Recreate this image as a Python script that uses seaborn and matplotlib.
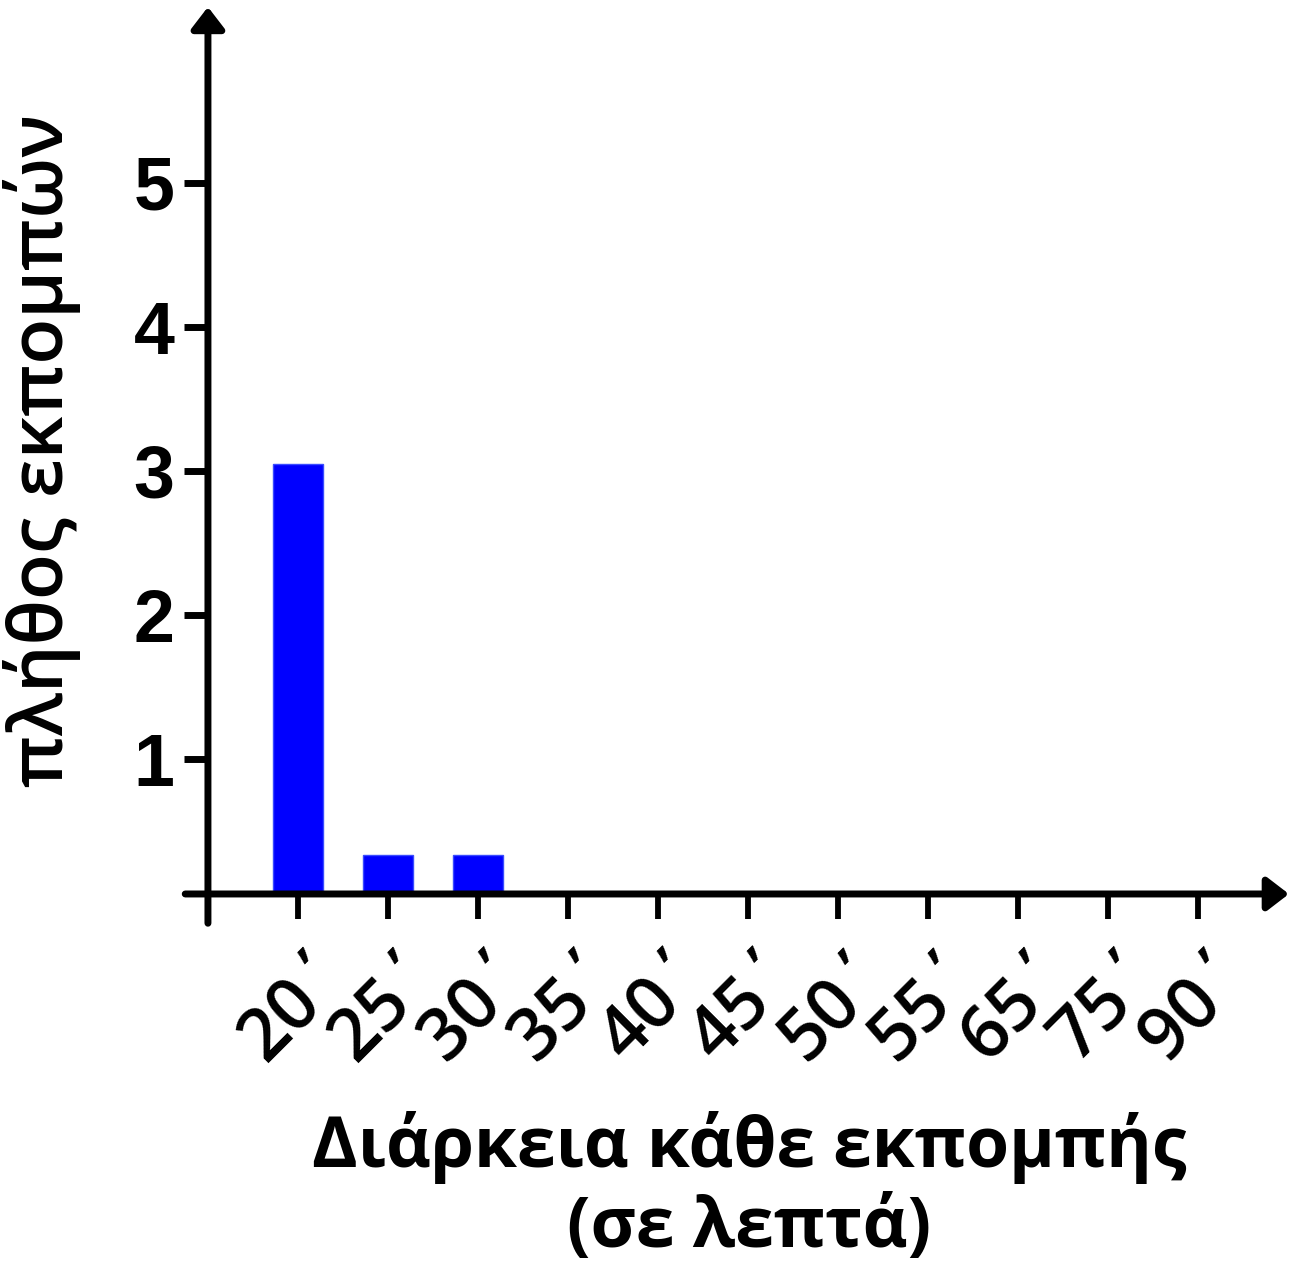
import matplotlib
matplotlib.use("Agg")
import matplotlib.pyplot as plt
import matplotlib.transforms as mtransforms
import seaborn as sns

# data
durations = ["20΄", "25΄", "30΄", "35΄", "40΄", "45΄", "50΄", "55΄", "65΄", "75΄", "90΄"]
counts = [3.05, 0.33, 0.33, 0, 0, 0, 0, 0, 0, 0, 0]
y_ticks = [1, 2, 3, 4, 5]

sns.set_style("white")
plt.rcParams["font.family"] = ["Liberation Sans", "DejaVu Sans"]
plt.rcParams["text.color"] = "black"
plt.rcParams["xtick.color"] = "black"
plt.rcParams["ytick.color"] = "black"
plt.rcParams["axes.labelcolor"] = "black"

fig = plt.figure(figsize=(12.94, 12.65), dpi=100)
ax = fig.add_axes([0.1607, 0.2933, 0.8362, 0.7012])

sns.barplot(x=durations, y=counts, color="#0000FF", saturation=1,
            width=0.55, edgecolor="#3a4cff", linewidth=1, ax=ax)

ax.set_xlim(-1, 11.02)
ax.set_ylim(0.0625, 6.22)

# hand-drawn axes with arrow heads (Prism style)
for s in ax.spines.values():
    s.set_visible(False)
arrow = dict(arrowstyle="-|>,head_length=0.65,head_width=0.5", mutation_scale=20,
             lw=5, color="black", shrinkA=0, shrinkB=0)
ax.annotate("", xy=(0, 1.0), xytext=(0, -0.033), xycoords="axes fraction",
            arrowprops=arrow, annotation_clip=False)
ax.annotate("", xy=(0.999, 0), xytext=(-0.021, 0), xycoords="axes fraction",
            arrowprops=arrow, annotation_clip=False)

ax.set_yticks(y_ticks)
ax.set_yticklabels([str(t) for t in y_ticks], fontsize=53, fontweight="bold")
ax.tick_params(axis="y", direction="out", length=17, width=5, pad=7)
ax.tick_params(axis="x", direction="out", length=18, width=4.2, pad=12)
ax.xaxis.set_ticks_position("bottom")
ax.yaxis.set_ticks_position("left")

shift = mtransforms.ScaledTranslation(12 / 72, 0, fig.dpi_scale_trans)
for lab in ax.get_xticklabels():
    lab.set_rotation(45)
    lab.set_rotation_mode("anchor")
    lab.set_ha("right")
    lab.set_va("top")
    lab.set_fontsize(52)
    lab.set_family("Open Sans")
    lab.set_fontweight(600)
    lab.set_transform(lab.get_transform() + shift)

ax.set_ylabel("πλήθος εκπομπών", fontsize=54, family="Open Sans",
              fontweight=600, labelpad=38)
ax.set_xlabel("Διάρκεια κάθε εκπομπής\n(σε λεπτά)", fontsize=50, family="Open Sans",
              fontweight="bold", labelpad=26, linespacing=1.2)

plt.savefig("out.png", dpi=100)
plt.close()
